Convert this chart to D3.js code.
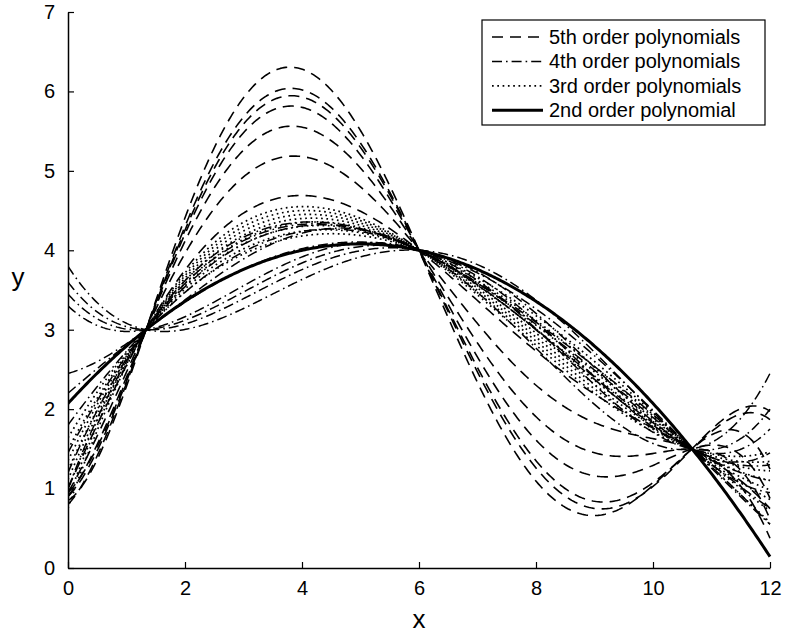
<!DOCTYPE html>
<html>
<head>
<meta charset="utf-8">
<script src="https://cdn.jsdelivr.net/npm/d3@7"></script>
<style>
  html, body { margin: 0; padding: 0; background: #fff; }
  svg { display: block; font-family: "Liberation Sans", Arial, Helvetica, sans-serif; }
</style>
</head>
<body>
<svg id="chart" width="786" height="634"></svg>
<script>
// ---------- data ----------
const xTicks = [0, 2, 4, 6, 8, 10, 12];
const yTicks = [0, 1, 2, 3, 4, 5, 6, 7];
const legendLabels = ["5th order polynomials", "4th order polynomials", "3rd order polynomials", "2nd order polynomial"];

// three points shared by every curve
const commonX = [4 / 3, 6, 32 / 3];
const commonY = [3, 4, 1.5];

// 5th order: extra read values at x = 0, 4, 9
const quinticX = [0, 4, 9];
const quinticY = [
  [0.85, 6.28, 0.66],
  [0.80, 6.02, 0.75],
  [0.90, 5.93, 0.84],
  [0.95, 5.80, 1.16],
  [0.90, 5.55, 1.45],
  [0.95, 5.18, 1.83],
  [1.00, 4.69, 2.19]
];

// 4th order: extra read values at x = 0, 12
const quarticX = [0, 12];
const quarticY = [
  [3.80, 0.95],
  [3.60, 1.45],
  [3.45, 1.75],
  [3.30, 2.00],
  [2.45, 2.45],
  [2.20, 0.55],
  [1.80, 1.30],
  [1.45, 1.10],
  [1.20, 0.75],
  [1.00, 0.55]
];

// 3rd order: extra read value at x = 4
const cubicX = [4];
const cubicY = [4.55, 4.50, 4.45, 4.40, 4.35, 4.30, 4.24, 4.18];

// ---------- layout ----------
const svg = d3.select("#chart");
const x = d3.scaleLinear().domain([0, 12]).range([68, 770]);
const y = d3.scaleLinear().domain([0, 7]).range([568, 12]);

// polynomial through a set of nodes
function polyThrough(xs, ys) {
  return function (t) {
    let s = 0;
    for (let i = 0; i < xs.length; i++) {
      let l = 1;
      for (let j = 0; j < xs.length; j++) if (j !== i) l *= (t - xs[j]) / (xs[i] - xs[j]);
      s += ys[i] * l;
    }
    return s;
  };
}
const samples = d3.range(0, 12.0001, 0.03);
const line = d3.line().x(d => x(d[0])).y(d => y(d[1]));
function curvePts(extraX, extraY) {
  const f = polyThrough(commonX.concat(extraX), commonY.concat(extraY));
  return samples.map(t => [t, f(t)]);
}

svg.append("clipPath").attr("id", "clip")
  .append("rect").attr("x", x(0)).attr("y", y(7) - 2).attr("width", x(12) - x(0) + 3).attr("height", y(0) - y(7) + 2);

const styles = {
  dash: { w: 1.6, a: "11,7" },
  dashdot: { w: 1.5, a: "10,4,1.6,4" },
  dot: { w: 1.7, a: "1.7,3.6" },
  solid: { w: 3, a: null }
};

const g = svg.append("g").attr("clip-path", "url(#clip)");
function draw(pts, st) {
  const p = g.append("path").datum(pts).attr("d", line)
    .attr("fill", "none").attr("stroke", "#000")
    .attr("stroke-width", st.w).attr("stroke-linejoin", "round");
  if (st.a) p.attr("stroke-dasharray", st.a);
}

quinticY.forEach(v => draw(curvePts(quinticX, v), styles.dash));
quarticY.forEach(v => draw(curvePts(quarticX, v), styles.dashdot));
cubicY.forEach(v => draw(curvePts(cubicX, [v]), styles.dot));
draw(curvePts([], []), styles.solid);

// ---------- axes ----------
const fs = 20;
const ax = svg.append("g").attr("transform", `translate(0,${y(0)})`)
  .call(d3.axisBottom(x).tickValues(xTicks).tickFormat(d3.format("d"))
    .tickSizeInner(-6).tickSizeOuter(0).tickPadding(13));
const ay = svg.append("g").attr("transform", `translate(${x(0)},0)`)
  .call(d3.axisLeft(y).tickValues(yTicks).tickFormat(d3.format("d"))
    .tickSizeInner(-6).tickSizeOuter(0).tickPadding(13));
[ax, ay].forEach(a => {
  a.selectAll("text").attr("font-size", fs).attr("fill", "#000")
    .attr("font-family", "'Liberation Sans', Arial, sans-serif");
  a.selectAll("line").attr("stroke", "#000").attr("stroke-width", 1.2);
  a.select(".domain").attr("stroke", "#000").attr("stroke-width", 1.5);
});

svg.append("text").attr("x", (x(0) + x(12)) / 2).attr("y", 628)
  .attr("text-anchor", "middle").attr("font-size", 26).text("x");
svg.append("text").attr("x", 18).attr("y", 286)
  .attr("text-anchor", "middle").attr("font-size", 26).text("y");

// ---------- legend ----------
const lg = svg.append("g");
lg.append("rect").attr("x", 482).attr("y", 20).attr("width", 283).attr("height", 105)
  .attr("fill", "#fff").attr("stroke", "#000").attr("stroke-width", 1.2);
const lstyles = [styles.dash, styles.dashdot, styles.dot, styles.solid];
legendLabels.forEach((lab, i) => {
  const cy = 37 + i * 24.4;
  const ln = lg.append("line").attr("x1", 492).attr("x2", 543).attr("y1", cy).attr("y2", cy)
    .attr("stroke", "#000").attr("stroke-width", lstyles[i].w);
  if (lstyles[i].a) ln.attr("stroke-dasharray", lstyles[i].a);
  lg.append("text").attr("x", 549).attr("y", cy).attr("dy", "0.35em")
    .attr("font-size", fs).text(lab);
});
</script>
</body>
</html>
